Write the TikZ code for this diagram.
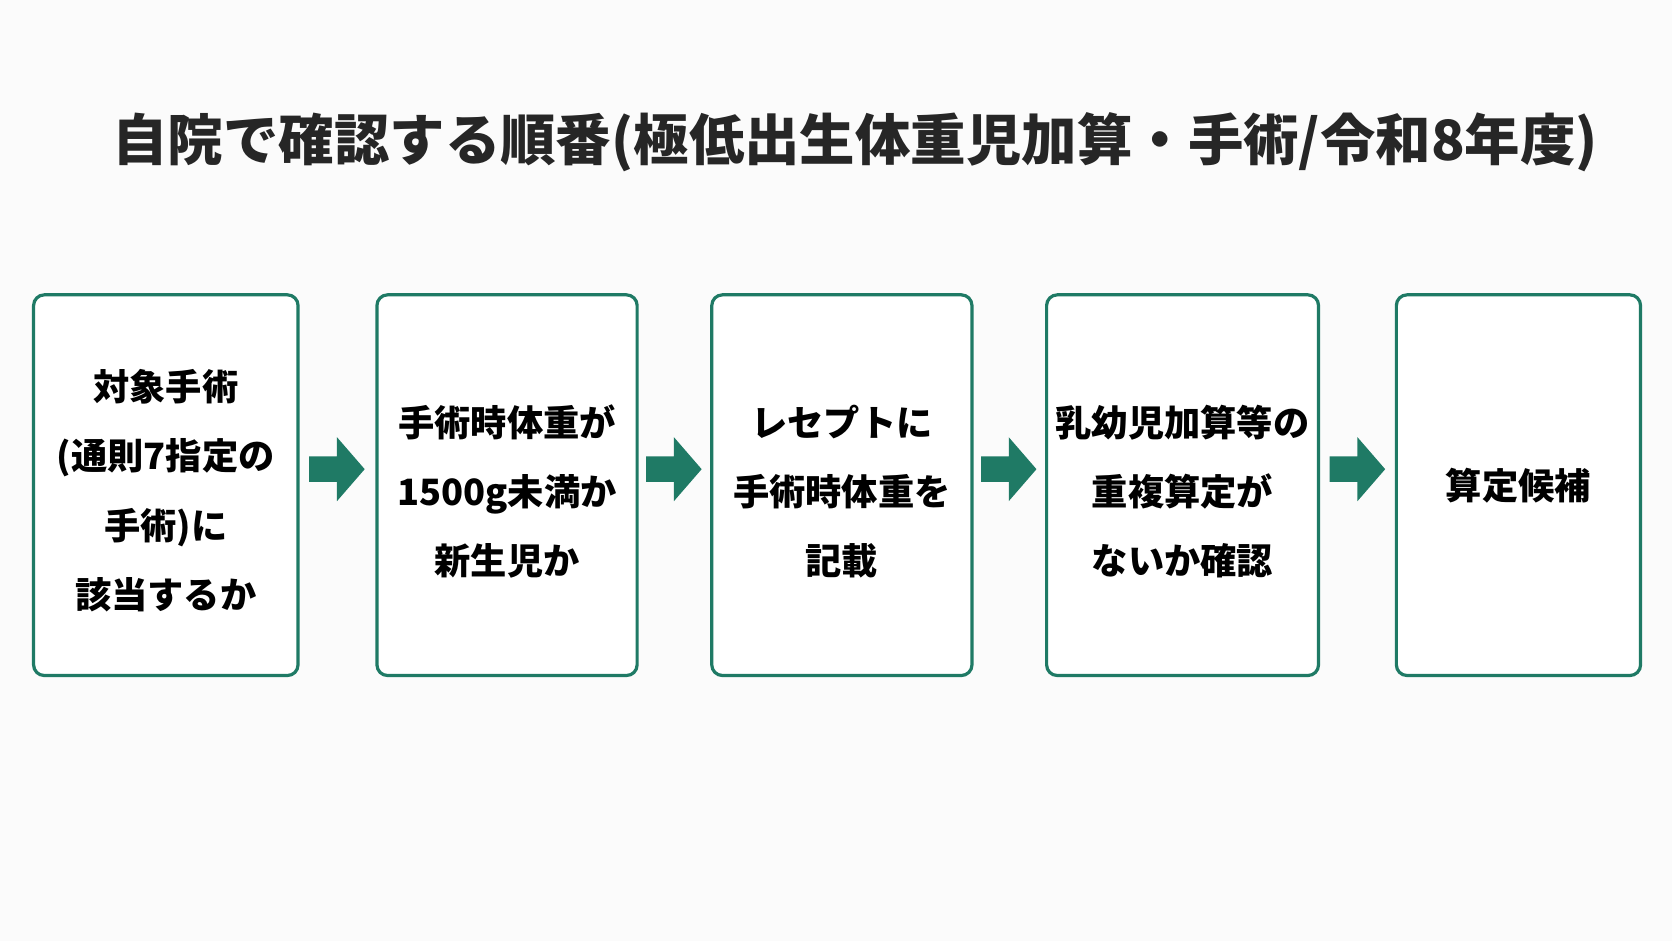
\documentclass[tikz,border=0pt]{standalone}
\usepackage{fontspec}
\setmainfont{Noto Sans CJK JP}
\definecolor{grn}{HTML}{1F7A65}
\begin{document}
\begin{tikzpicture}[x=1pt,y=-1pt,
 box/.style={draw=grn,line width=3pt,rounded corners=10pt,fill=white,anchor=north west,inner sep=0pt,align=center,font=\fontsize{34}{65}\selectfont\bfseries},
 lbl/.style={align=center,inner sep=0pt,font=\fontsize{34}{65}\selectfont\bfseries}]
\newcommand\blockarrow[2]{\fill[grn] (#1-26,#2-12) -- (#1,#2-12) -- (#1,#2-30) -- (#1+26,#2) -- (#1,#2+30) -- (#1,#2+12) -- (#1-26,#2+12) -- cycle;}
\useasboundingbox (0,0) rectangle (1568,882);
\fill[white!97!gray] (0,0) rectangle (1568,882);
\node[font=\fontsize{52}{60}\selectfont\bfseries,text=black!85] (title) at (802,133) {自院で確認する順番(極低出生体重児加算・手術/令和8年度)};
\node[box,minimum width=248pt,minimum height=357pt] (b1) at (30,275) {};
\node[box,minimum width=244pt,minimum height=357pt] (b2) at (352,275) {};
\node[box,minimum width=244pt,minimum height=357pt] (b3) at (666,275) {};
\node[box,minimum width=255pt,minimum height=357pt] (b4) at (980,275) {};
\node[box,minimum width=229pt,minimum height=357pt] (b5) at (1308,275) {};
\node[lbl] (t1) at ([yshift=-5pt]b1.center) {対象手術\\(通則7指定の\\手術)に\\該当するか};
\node[lbl] (t2) at ([yshift=-6pt]b2.center) {手術時体重が\\1500g未満か\\新生児か};
\node[lbl] (t3) at ([yshift=-6pt]b3.center) {レセプトに\\手術時体重を\\記載};
\node[lbl] (t4) at ([yshift=-6pt]b4.center) {乳幼児加算等の\\重複算定が\\ないか確認};
\node[lbl] (t5) at ([yshift=0pt]b5.center) {算定候補};
\blockarrow{316}{440}
\blockarrow{632}{440}
\blockarrow{946}{440}
\blockarrow{1273}{440}
\end{tikzpicture}
\end{document}
